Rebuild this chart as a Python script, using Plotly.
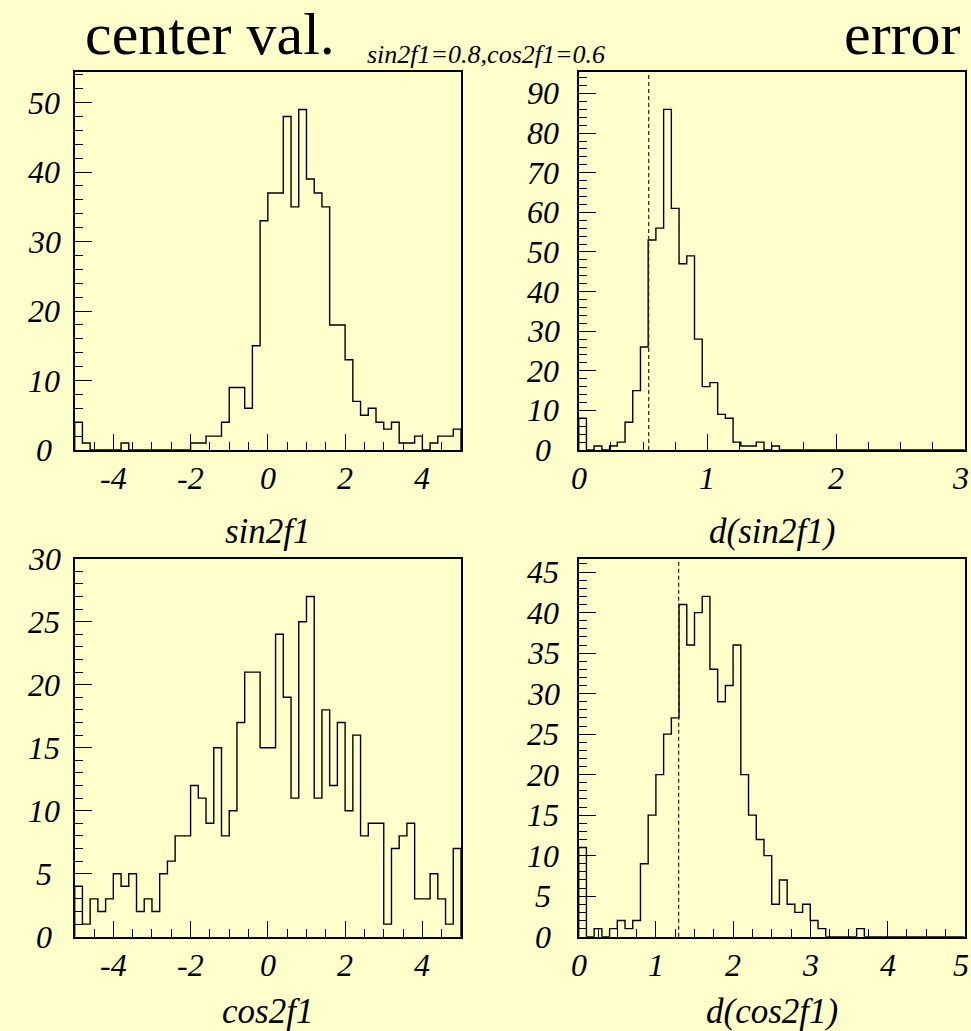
import numpy as np
import plotly.graph_objects as go

# ---- histogram contents (50 equal-width bins each) ----
sin_center = [4, 1, 0, 0, 0, 0, 1, 0, 0, 0,
              0, 0, 0, 0, 0, 1, 1, 2, 2, 4,
              9, 9, 6, 15, 33, 37, 37, 48, 35, 49,
              39, 37, 35, 18, 18, 13, 7, 5, 6, 4,
              3, 4, 1, 1, 2, 0, 1, 2, 2, 3]
sin_error = [8, 0, 1, 0, 1, 2, 7, 15, 26, 53,
             56, 86, 61, 47, 49, 28, 16, 17, 9, 8,
             2, 1, 1, 2, 0, 1, 0, 0, 0, 0,
             0, 0, 0, 0, 0, 0, 0, 0, 0, 0,
             0, 0, 0, 0, 0, 0, 0, 0, 0, 0]
cos_center = [4, 1, 3, 2, 3, 5, 4, 5, 2, 3,
              2, 5, 6, 8, 8, 12, 11, 9, 15, 8,
              10, 17, 21, 21, 15, 15, 24, 19, 11, 25,
              27, 11, 18, 12, 17, 10, 16, 8, 9, 9,
              1, 7, 8, 9, 3, 3, 5, 3, 1, 7]
cos_error = [11, 0, 1, 0, 1, 2, 1, 2, 9, 15,
             20, 25, 27, 41, 36, 40, 42, 33, 29, 31,
             36, 20, 15, 12, 10, 4, 7, 4, 3, 4,
             2, 1, 0, 0, 0, 0, 1, 0, 0, 0,
             0, 0, 0, 0, 0, 0, 0, 0, 0, 0]

# histogram ranges
center_range = (-5.0, 5.0)
sin_err_range = (0.0, 3.0)
cos_err_range = (0.0, 5.0)

# reference error values drawn as dashed lines
sin_err_ref = 0.544
cos_err_ref = 1.295

# vertical axis tops
y_top = {"sin": 54.45, "dsin": 95.5, "cos": 30.0, "dcos": 46.65}

# tick marks and labels
center_xticks = [-4, -2, 0, 2, 4]
center_xlabels = ["-4", "-2", "0", "2", "4"]
dsin_xticks = [0, 1, 2, 3]
dsin_xlabels = ["0", "1", "2", "3"]
dcos_xticks = [0, 1, 2, 3, 4, 5]
dcos_xlabels = ["0", "1", "2", "3", "4", "5"]
sin_yticks = [0, 10, 20, 30, 40, 50]
dsin_yticks = [0, 10, 20, 30, 40, 50, 60, 70, 80, 90]
cos_yticks = [0, 5, 10, 15, 20, 25, 30]
dcos_yticks = [0, 5, 10, 15, 20, 25, 30, 35, 40, 45]

W, H = 971, 1031
BG = "#ffffcc"
SERIF = "Liberation Serif"

# frame boxes in pixels: (left, right) and (top, bottom)
LEFT_X = (74.7, 461.0)
RIGHT_X = (578.7, 964.7)
TOP_Y = (71.7, 450.0)
BOT_Y = (558.7, 936.7)


def xdom(px):
    return [px[0] / W, px[1] / W]


def ydom(py):
    return [1 - py[1] / H, 1 - py[0] / H]


def outline(counts, lo, hi):
    edges = np.linspace(lo, hi, len(counts) + 1)
    xs = np.concatenate([[edges[0]], edges[:-1], [edges[-1], edges[-1]]])
    ys = np.concatenate([[0], counts, [counts[-1], 0]])
    return xs, ys


fig = go.Figure()

panels = [
    # key, counts, range, xaxis, yaxis, xbox, ybox, xticks, xlabels,
    # x minor step, y ticks, y minor step, axis title, title centre offset
    ("sin", sin_center, center_range, "x", "y", LEFT_X, TOP_Y,
     center_xticks, center_xlabels, 0.5, sin_yticks, 2, "sin2f1", 81),
    ("dsin", sin_error, sin_err_range, "x2", "y2", RIGHT_X, TOP_Y,
     dsin_xticks, dsin_xlabels, 0.25, dsin_yticks, 2, "d(sin2f1)", 81),
    ("cos", cos_center, center_range, "x3", "y3", LEFT_X, BOT_Y,
     center_xticks, center_xlabels, 0.5, cos_yticks, 1, "cos2f1", 75),
    ("dcos", cos_error, cos_err_range, "x4", "y4", RIGHT_X, BOT_Y,
     dcos_xticks, dcos_xlabels, 0.25, dcos_yticks, 1, "d(cos2f1)", 75),
]

tick_font = dict(family=SERIF, size=32, color="black", style="italic")
annotations = []

for (key, counts, rng, xa, ya, xbox, ybox, xt, xl, xminor,
     yt, yminor, title, title_off) in panels:
    xs, ys = outline(counts, rng[0], rng[1])
    fig.add_trace(go.Scatter(
        x=xs, y=ys, mode="lines", xaxis=xa, yaxis=ya,
        line=dict(color="black", width=1.4, shape="hv"),
        hoverinfo="skip", showlegend=False,
    ))
    xname = "xaxis" if xa == "x" else "xaxis" + xa[1:]
    yname = "yaxis" if ya == "y" else "yaxis" + ya[1:]
    fig.layout[xname] = dict(
        domain=xdom(xbox), range=list(rng), anchor=ya,
        showline=True, linecolor="black", linewidth=1.5, mirror=True,
        showgrid=False, zeroline=False,
        ticks="inside", ticklen=16, tickwidth=1.2, tickcolor="black",
        tickmode="array", tickvals=xt, showticklabels=False,
        minor=dict(ticks="inside", ticklen=8, tickwidth=1.2,
                   tickcolor="black", dtick=xminor, tick0=0, showgrid=False),
        fixedrange=True,
    )
    fig.layout[yname] = dict(
        domain=ydom(ybox), range=[0, y_top[key]], anchor=xa,
        showline=True, linecolor="black", linewidth=1.5, mirror=True,
        showgrid=False, zeroline=False,
        ticks="inside", ticklen=18, tickwidth=1.2, tickcolor="black",
        tickmode="array", tickvals=yt, showticklabels=False,
        minor=dict(ticks="inside", ticklen=9, tickwidth=1.2,
                   tickcolor="black", dtick=yminor, tick0=0, showgrid=False),
        fixedrange=True,
    )
    # vertical-axis labels, centred in the space left of each frame
    label_cx = 44 if xbox is LEFT_X else 543
    for v in yt:
        annotations.append(dict(
            text=str(v), x=label_cx / W, xref="paper", y=v, yref=ya,
            xanchor="center", yanchor="middle", showarrow=False,
            font=tick_font,
        ))
    # horizontal-axis labels under the frame; the label at the page's
    # right edge is pulled inside so it stays fully visible
    for v, s in zip(xt, xl):
        at_edge = xbox is RIGHT_X and v == rng[1]
        annotations.append(dict(
            text=s, x=1.0 if at_edge else v,
            xref="paper" if at_edge else xa,
            y=1 - (ybox[1] + 28) / H, yref="paper",
            xanchor="right" if at_edge else "center", yanchor="middle",
            showarrow=False, font=tick_font,
        ))
    # axis title below the frame
    annotations.append(dict(
        text=title, x=(xbox[0] + xbox[1]) / 2 / W, xref="paper",
        y=1 - (ybox[1] + title_off) / H, yref="paper",
        xanchor="center", yanchor="middle", showarrow=False,
        font=dict(family=SERIF, size=35, color="black", style="italic"),
    ))

# dashed reference lines on the error histograms
for xref_name, yref_name, val in (("x2", "y2", sin_err_ref),
                                  ("x4", "y4", cos_err_ref)):
    fig.add_shape(type="line", xref=xref_name, yref=yref_name + " domain",
                  x0=val, x1=val, y0=0, y1=1,
                  line=dict(color="#222222", width=1.2, dash="4px,3px"))

# page headings
annotations.append(dict(
    text="center val.", x=84 / W, xref="paper", y=1, yref="paper",
    xanchor="left", yanchor="top", showarrow=False, borderpad=0,
    font=dict(family=SERIF, size=60, color="black"),
))
annotations.append(dict(
    text="error", x=962 / W, xref="paper", y=1, yref="paper",
    xanchor="right", yanchor="top", showarrow=False, borderpad=0,
    font=dict(family=SERIF, size=60, color="black"),
))
annotations.append(dict(
    text="sin2f1=0.8,cos2f1=0.6", x=607 / W, xref="paper",
    y=1 - 54 / H, yref="paper", xanchor="right", yanchor="middle",
    showarrow=False,
    font=dict(family=SERIF, size=26, color="black", style="italic"),
))

fig.update_layout(
    width=W, height=H, autosize=False,
    margin=dict(l=0, r=0, t=0, b=0, pad=0),
    paper_bgcolor=BG, plot_bgcolor=BG,
    annotations=annotations,
    showlegend=False,
)

fig.write_html("out.html", config={"displayModeBar": False})
